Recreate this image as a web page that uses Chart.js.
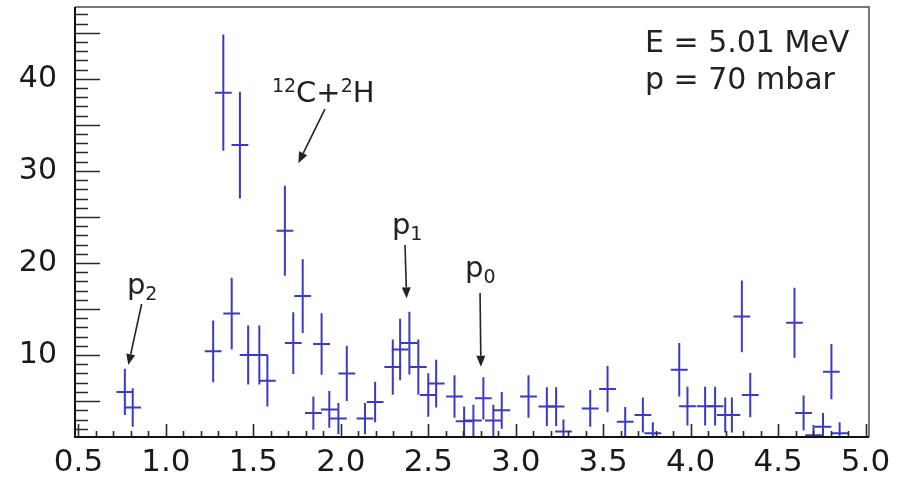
<!DOCTYPE html>
<html>
<head>
<meta charset="utf-8">
<script src="https://cdn.jsdelivr.net/npm/chart.js@4.4.0/dist/chart.umd.min.js"></script>
<style>
  html, body { margin: 0; padding: 0; background: #fff; }
  canvas { display: block; }
</style>
</head>
<body>
<canvas id="spectrum" width="901" height="483"></canvas>
<script>
// proton energy (MeV), counts and count errors
const energy = [0.765, 0.81, 1.27, 1.328, 1.376, 1.423, 1.47, 1.534, 1.58, 1.68,
  1.728, 1.782, 1.843, 1.89, 1.934, 1.986, 2.034, 2.138, 2.196, 2.297,
  2.339, 2.392, 2.443, 2.5, 2.545, 2.65, 2.705, 2.758, 2.815, 2.872,
  2.92, 3.073, 3.178, 3.231, 3.273, 3.426, 3.525, 3.626, 3.727, 3.784,
  3.935, 3.982, 4.083, 4.14, 4.198, 4.236, 4.293, 4.341, 4.594, 4.646,
  4.703, 4.757, 4.805, 4.852];
const counts = [6.0, 4.3, 10.4, 38.5, 14.5, 32.8, 10.0, 10.0, 7.2, 23.5,
  11.3, 16.4, 3.7, 11.2, 4.1, 3.1, 8.0, 3.1, 4.9, 8.7,
  10.6, 11.3, 8.7, 5.65, 6.9, 5.5, 2.8, 2.9, 5.3, 2.9,
  4.0, 5.5, 4.4, 4.4, 1.7, 4.2, 6.3, 2.75, 3.5, 1.5,
  8.4, 4.45, 4.45, 4.45, 3.5, 3.5, 14.2, 5.65, 13.5, 3.7,
  1.3, 2.2, 8.2, 1.5];
const countErr = [2.5, 2.1, 3.35, 6.3, 3.9, 5.8, 3.2, 3.2, 2.8, 4.9,
  3.35, 4.0, 1.8, 3.35, 2.0, 1.7, 3.0, 1.7, 2.2, 3.0,
  3.35, 3.4, 3.0, 2.36, 2.6, 2.3, 1.6, 1.7, 2.3, 1.7,
  2.0, 2.3, 2.1, 2.1, 1.3, 2.0, 2.5, 1.6, 1.9, 1.2,
  2.9, 2.1, 2.1, 2.1, 1.9, 1.9, 3.9, 2.4, 3.8, 1.9,
  1.1, 1.5, 3.0, 1.2];
const energyErr = 0.048;

const xTicks = [0.5, 1.0, 1.5, 2.0, 2.5, 3.0, 3.5, 4.0, 4.5, 5.0];
const yTicks = [10, 20, 30, 40];

// peak labels: text parts, label anchor and arrow (data coords)
const peakLabels = [
  { parts: [['p', 0], ['2', 1]], at: [0.777, 16.63], arrow: [0.861, 15.54, 0.785, 8.91] },
  { parts: [['p', 0], ['1', 1]], at: [2.292, 23.15], arrow: [2.367, 21.96, 2.376, 16.16] },
  { parts: [['p', 0], ['0', 1]], at: [2.71, 18.48], arrow: [2.796, 16.74, 2.801, 8.73] },
  { parts: [['12', -1], ['C', 0], ['+', 0], ['2', -1], ['H', 0]], at: [1.606, 37.53], arrow: [1.909, 36.7, 1.757, 30.84] }
];
const infoLines = ['E = 5.01 MeV', 'p = 70 mbar'];
const infoAt = [[3.739, 42.93], [3.739, 38.86]];

const FONT = 'DejaVu Sans';
const BLUE = '#3a3ac6';

const errorBars = {
  id: 'errorBars',
  afterDatasetsDraw(chart) {
    const { ctx, chartArea: a, scales: { x, y } } = chart;
    ctx.save();
    ctx.beginPath();
    ctx.rect(a.left, a.top, a.right - a.left, a.bottom - a.top);
    ctx.clip();
    ctx.strokeStyle = BLUE;
    ctx.lineWidth = 2;
    for (let i = 0; i < energy.length; i++) {
      const px = x.getPixelForValue(energy[i]);
      const py = y.getPixelForValue(counts[i]);
      ctx.beginPath();
      ctx.moveTo(px, y.getPixelForValue(counts[i] + countErr[i]));
      ctx.lineTo(px, y.getPixelForValue(counts[i] - countErr[i]));
      ctx.moveTo(x.getPixelForValue(energy[i] - energyErr), py);
      ctx.lineTo(x.getPixelForValue(energy[i] + energyErr), py);
      ctx.stroke();
    }
    ctx.restore();
  }
};

const frame = {
  id: 'frame',
  afterDraw(chart) {
    const { ctx, chartArea: a, scales: { x, y } } = chart;
    ctx.save();
    // ticks point into the plot
    ctx.strokeStyle = '#2a2a2a';
    ctx.lineWidth = 1.6;
    ctx.beginPath();
    for (let v = Math.ceil(y.min); v < y.max; v++) {
      const py = Math.round(y.getPixelForValue(v)) + 0.5;
      const len = v % 5 === 0 ? 25 : 13;
      ctx.moveTo(a.left, py);
      ctx.lineTo(a.left + len, py);
    }
    for (let k = 5; k <= 50; k++) {
      const px = Math.round(x.getPixelForValue(k / 10)) + 0.5;
      const len = k % 5 === 0 ? 13 : 6;
      ctx.moveTo(px, a.bottom);
      ctx.lineTo(px, a.bottom - len);
    }
    ctx.stroke();

    ctx.lineWidth = 2;
    ctx.strokeStyle = '#777';
    ctx.beginPath();
    ctx.moveTo(a.left, a.top);
    ctx.lineTo(a.right, a.top);
    ctx.lineTo(a.right, a.bottom);
    ctx.stroke();
    ctx.strokeStyle = '#111';
    ctx.beginPath();
    ctx.moveTo(a.left, a.top);
    ctx.lineTo(a.left, a.bottom);
    ctx.lineTo(a.right, a.bottom);
    ctx.stroke();
    ctx.restore();
  }
};

function drawArrow(ctx, x1, y1, x2, y2) {
  const ang = Math.atan2(y2 - y1, x2 - x1);
  const head = 11, half = 4.5;
  const bx = x2 - head * Math.cos(ang), by = y2 - head * Math.sin(ang);
  ctx.beginPath();
  ctx.moveTo(x1, y1);
  ctx.lineTo(bx, by);
  ctx.stroke();
  ctx.beginPath();
  ctx.moveTo(x2, y2);
  ctx.lineTo(bx + half * Math.sin(ang), by - half * Math.cos(ang));
  ctx.lineTo(bx - half * Math.sin(ang), by + half * Math.cos(ang));
  ctx.closePath();
  ctx.fill();
}

const annotations = {
  id: 'annotations',
  afterDraw(chart) {
    const { ctx, scales: { x, y } } = chart;
    ctx.save();
    ctx.fillStyle = '#222';
    ctx.strokeStyle = '#222';
    ctx.lineWidth = 1.6;
    ctx.textBaseline = 'alphabetic';
    ctx.textAlign = 'left';
    peakLabels.forEach(lab => {
      let px = x.getPixelForValue(lab.at[0]);
      const base = y.getPixelForValue(lab.at[1]);
      lab.parts.forEach(([t, shift]) => {
        ctx.font = (shift === 0 ? 29 : 19) + 'px "' + FONT + '"';
        const dy = shift === 1 ? 6 : (shift === -1 ? -10 : 0);
        ctx.fillText(t, px, base + dy);
        px += ctx.measureText(t).width;
      });
      const [ax1, ay1, ax2, ay2] = lab.arrow;
      drawArrow(ctx, x.getPixelForValue(ax1), y.getPixelForValue(ay1),
        x.getPixelForValue(ax2), y.getPixelForValue(ay2));
    });
    ctx.font = '30px "' + FONT + '"';
    infoLines.forEach((t, i) => {
      ctx.fillText(t, x.getPixelForValue(infoAt[i][0]), y.getPixelForValue(infoAt[i][1]));
    });
    ctx.restore();
  }
};

// keep the plot frame at fixed pixel bounds
function noPad(s) {
  s.paddingTop = 0;
  s.paddingBottom = 0;
  s.paddingLeft = 0;
  s.paddingRight = 0;
}

new Chart(document.getElementById('spectrum'), {
  type: 'scatter',
  data: {
    datasets: [{
      data: energy.map((e, i) => ({ x: e, y: counts[i] })),
      pointRadius: 0,
      showLine: false
    }]
  },
  options: {
    responsive: false,
    animation: false,
    devicePixelRatio: 1,
    layout: { padding: { top: 7, right: 32, left: 0, bottom: 0 } },
    plugins: { legend: { display: false }, tooltip: { enabled: false } },
    scales: {
      x: {
        type: 'linear',
        min: 0.48,
        max: 5.02,
        grid: { display: false, drawTicks: false },
        border: { display: false },
        afterBuildTicks: s => { s.ticks = xTicks.map(v => ({ value: v })); },
        afterFit: s => { s.height = 46; noPad(s); },
        ticks: {
          color: '#1a1a1a',
          padding: 7,
          maxRotation: 0,
          autoSkip: false,
          font: { family: FONT, size: 31 },
          callback: v => v.toFixed(1)
        }
      },
      y: {
        type: 'linear',
        min: 1.1,
        max: 47.8,
        grid: { display: false, drawTicks: false },
        border: { display: false },
        afterBuildTicks: s => { s.ticks = yTicks.map(v => ({ value: v })); },
        afterFit: s => { s.width = 75; noPad(s); },
        ticks: {
          color: '#1a1a1a',
          padding: 18,
          autoSkip: false,
          font: { family: FONT, size: 30 }
        }
      }
    }
  },
  plugins: [errorBars, frame, annotations]
});
</script>
</body>
</html>
